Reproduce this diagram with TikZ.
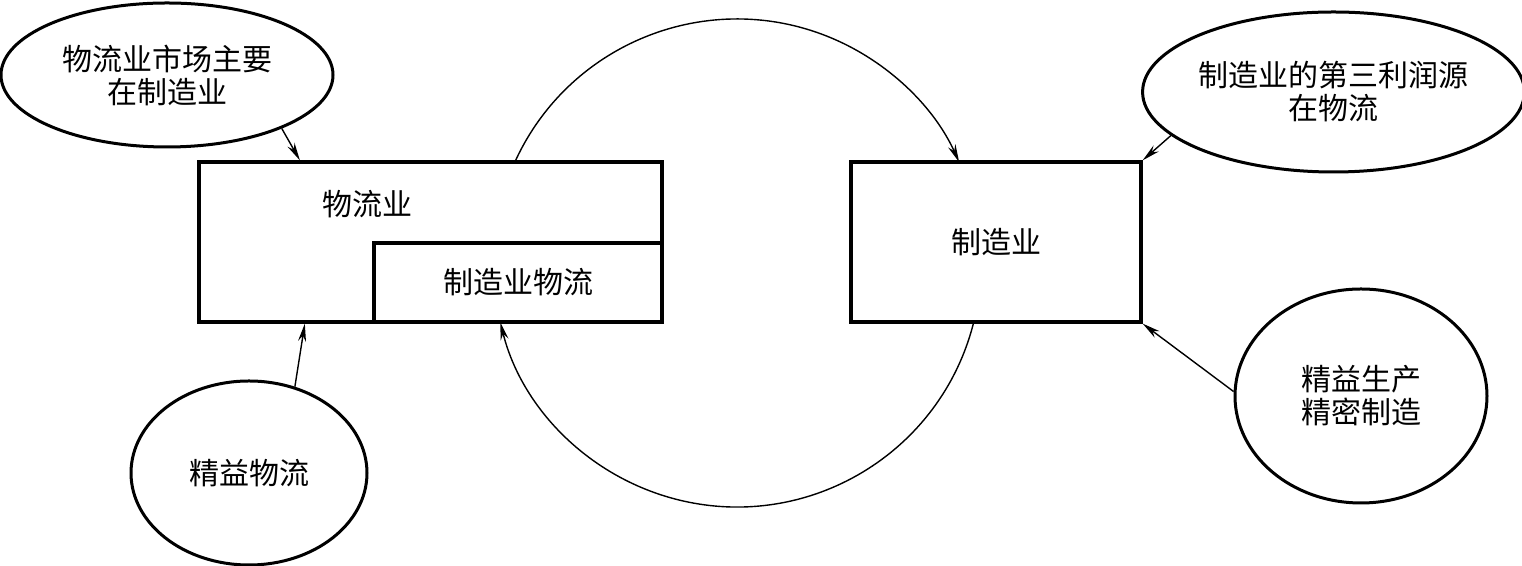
\documentclass[tikz,border=0pt]{standalone}
\usepackage{fontspec}
\newfontfamily\cjk{Noto Sans CJK SC}
\usetikzlibrary{arrows.meta, shapes.geometric}
\tikzset{
  hanzi/.style={font=\cjk\fontsize{15}{16.5}\selectfont, align=center},
  bubble/.style={ellipse, draw, line width=1.5pt, inner sep=0pt, hanzi},
  block/.style={rectangle, draw, line width=1.6pt, inner sep=0pt, hanzi},
  feed/.style={-{Stealth[length=9pt,width=4pt]}, line width=0.7pt},
}
\begin{document}
\begin{tikzpicture}[x=0.5pt, y=0.5pt]
          \useasboundingbox (0,0) rectangle (1522,566);
          \node[block, minimum width=231.5pt, minimum height=80pt] (lbox) at (430.5,324) {};
          \node[block, minimum width=144pt, minimum height=39.5pt] (lsub) at (518,283.5) {制造业物流};
          \node[hanzi] (ltext) at (367,362) {物流业};
          \node[block, minimum width=145pt, minimum height=80pt] (rbox) at (996,324) {制造业};

          \node[bubble, minimum width=166pt, minimum height=72pt] (e1) at (167,491) {物流业市场主要\\在制造业};
          \node[bubble, minimum width=186.5pt, minimum height=80pt] (e2) at (1333.5,474) {制造业的第三利润源\\在物流};
          \node[bubble, minimum width=118pt, minimum height=92pt] (e3) at (249,93) {精益物流};
          \node[bubble, minimum width=126pt, minimum height=107pt] (e4) at (1361,170) {精益生产\\精密制造};

          \coordinate (cyc) at (737,303);

          \draw[feed] (e1.-25) -- (lbox.148);
          \draw[feed] (e3.62) -- (lbox.213.6);
          \draw[feed] (e2.195.8) -- (rbox.north east);
          \draw[feed] (e4.178) -- (rbox.south east);

          \draw[feed] (cyc) ++(155.5:122pt) arc[start angle=155.5, end angle=24.4, radius=122pt];
          \draw[feed] (cyc) ++(-14:122pt) arc[start angle=-14, end angle=-166, radius=122pt];
        \end{tikzpicture}
\end{document}
